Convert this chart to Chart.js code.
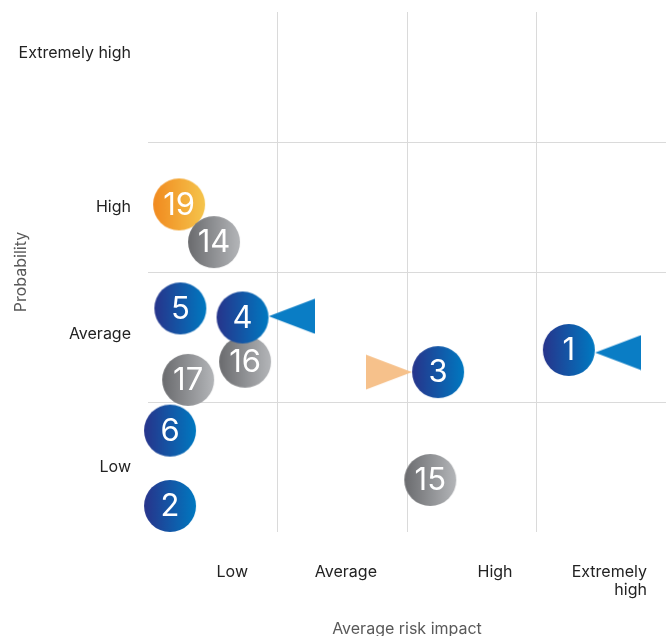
<!DOCTYPE html>
<html>
<head>
<meta charset="utf-8">
<script src="https://cdn.jsdelivr.net/npm/chart.js@4.4.1/dist/chart.umd.min.js"></script>
<style>
  html, body { margin: 0; padding: 0; background: #fff; }
  #wrap { width: 666px; height: 636px; }
</style>
</head>
<body>
<div id="wrap"><canvas id="riskChart"></canvas></div>
<script>
// Axis categories
const impactLabels = ["Low", "Average", "High", ["Extremely", "high"]];
const probabilityLabels = ["Low", "Average", "High", "Extremely high"];

// Risks (impact / probability on a 0-4 grid)
const riskIds = ["19", "14", "5", "16", "4", "17", "6", "2", "15", "3", "1"];
const riskImpact = [0.24, 0.51, 0.25, 0.75, 0.73, 0.31, 0.17, 0.17, 2.18, 2.24, 3.25];
const riskProbability = [2.52, 2.23, 1.72, 1.31, 1.65, 1.17, 0.78, 0.2, 0.4, 1.23, 1.4];
const riskType = ["new", "watch", "key", "watch", "key", "watch", "key", "key", "watch", "key", "key"];

// Trend arrows
const trendImpact = [1.11, 3.63, 1.86];
const trendProbability = [1.66, 1.38, 1.23];
const trendDirection = ["down", "down", "up"];

// layout helpers (where grid lines and labels sit)
const gridAt = [1, 2, 3];
const xLabelAt = [0.772, 1.768, 2.815, 3.853];
const yLabelAt = [0.5, 1.52, 2.5, 3.68];

const discColors = {
  key: ["#27348b", "#0079c1"],
  watch: ["#6a6b6e", "#b4b6b9"],
  new: ["#f18a1f", "#f5c54d"],
};
const arrowColors = { down: "#0a7dc5", up: "#f6c18b" };

function makeDisc(c0, c1) {
  const c = document.createElement("canvas");
  c.width = 54;
  c.height = 54;
  const g = c.getContext("2d");
  const grad = g.createLinearGradient(1, 0, 53, 0);
  grad.addColorStop(0, c0);
  grad.addColorStop(1, c1);
  g.fillStyle = grad;
  g.beginPath();
  g.arc(27, 27, 26, 0, Math.PI * 2);
  g.fill();
  return c;
}

function makeArrow(color, dir) {
  const c = document.createElement("canvas");
  c.width = 46;
  c.height = 36;
  const g = c.getContext("2d");
  g.fillStyle = color;
  g.beginPath();
  if (dir === "down") {
    g.moveTo(0, 18);
    g.lineTo(46, 0.5);
    g.lineTo(46, 35.5);
  } else {
    g.moveTo(46, 18);
    g.lineTo(0, 0.5);
    g.lineTo(0, 35.5);
  }
  g.closePath();
  g.fill();
  return c;
}

const discs = {};
Object.keys(discColors).forEach((k) => {
  discs[k] = makeDisc(discColors[k][0], discColors[k][1]);
});
const arrows = {
  down: makeArrow(arrowColors.down, "down"),
  up: makeArrow(arrowColors.up, "up"),
};

// white numbers on the discs
const riskLabelPlugin = {
  id: "riskLabels",
  afterDatasetsDraw(chart) {
    const meta = chart.getDatasetMeta(0);
    const ctx = chart.ctx;
    ctx.save();
    ctx.fillStyle = "#ffffff";
    ctx.font = "31px Inter";
    ctx.textAlign = "center";
    ctx.textBaseline = "middle";
    meta.data.forEach((pt, i) => {
      ctx.fillText(riskIds[i], pt.x, pt.y + 1);
    });
    ctx.restore();
  },
};

// no automatic label padding, the plot box is fixed
function noPadding(scale) {
  scale.paddingTop = 0;
  scale.paddingBottom = 0;
  scale.paddingLeft = 0;
  scale.paddingRight = 0;
}

Chart.defaults.font.family = "Inter";

new Chart(document.getElementById("riskChart"), {
  type: "scatter",
  data: {
    datasets: [
      {
        label: "Risks",
        data: riskIds.map((id, i) => ({ x: riskImpact[i], y: riskProbability[i] })),
        pointStyle: riskType.map((t) => discs[t]),
        pointRadius: 26,
        clip: false,
      },
      {
        label: "Trend",
        data: trendImpact.map((x, i) => ({ x: x, y: trendProbability[i] })),
        pointStyle: trendDirection.map((d) => arrows[d]),
        pointRadius: 23,
        clip: false,
      },
    ],
  },
  options: {
    responsive: true,
    maintainAspectRatio: false,
    animation: false,
    events: [],
    layout: { autoPadding: false, padding: { top: 12, left: 0, right: 0, bottom: 0 } },
    plugins: {
      legend: { display: false },
      tooltip: { enabled: false },
    },
    scales: {
      x: {
        type: "linear",
        min: 0,
        max: 4,
        border: { display: false },
        grid: {
          drawTicks: false,
          color: (ctx) => (ctx.tick && gridAt.includes(ctx.tick.value) ? "#dadada" : "rgba(0,0,0,0)"),
        },
        afterBuildTicks: (scale) => {
          scale.ticks = gridAt.concat(xLabelAt).map((v) => ({ value: v }));
        },
        afterFit: (scale) => {
          scale.height = 104;
          noPadding(scale);
        },
        ticks: {
          autoSkip: false,
          maxRotation: 0,
          align: "end",
          padding: 31,
          color: "#222",
          font: { size: 16, lineHeight: 1.15 },
          callback: (value) => {
            const i = xLabelAt.indexOf(value);
            return i >= 0 ? impactLabels[i] : "";
          },
        },
        title: {
          display: true,
          text: "Average risk impact",
          color: "#595959",
          font: { size: 16, lineHeight: 0.85 },
          padding: { top: 0, bottom: 0 },
        },
      },
      y: {
        type: "linear",
        min: 0,
        max: 4,
        border: { display: false },
        grid: {
          drawTicks: false,
          color: (ctx) => (ctx.tick && gridAt.includes(ctx.tick.value) ? "#dadada" : "rgba(0,0,0,0)"),
        },
        afterBuildTicks: (scale) => {
          scale.ticks = gridAt.concat(yLabelAt).map((v) => ({ value: v }));
        },
        afterFit: (scale) => {
          scale.width = 148;
          noPadding(scale);
        },
        ticks: {
          autoSkip: false,
          padding: 17,
          color: "#222",
          font: { size: 16 },
          callback: (value) => {
            const i = yLabelAt.indexOf(value);
            return i >= 0 ? probabilityLabels[i] : "";
          },
        },
        title: {
          display: true,
          text: "Probability",
          color: "#595959",
          font: { size: 16, lineHeight: 1.2 },
          padding: { top: 12, bottom: 0 },
        },
      },
    },
  },
  plugins: [riskLabelPlugin],
});
</script>
</body>
</html>
